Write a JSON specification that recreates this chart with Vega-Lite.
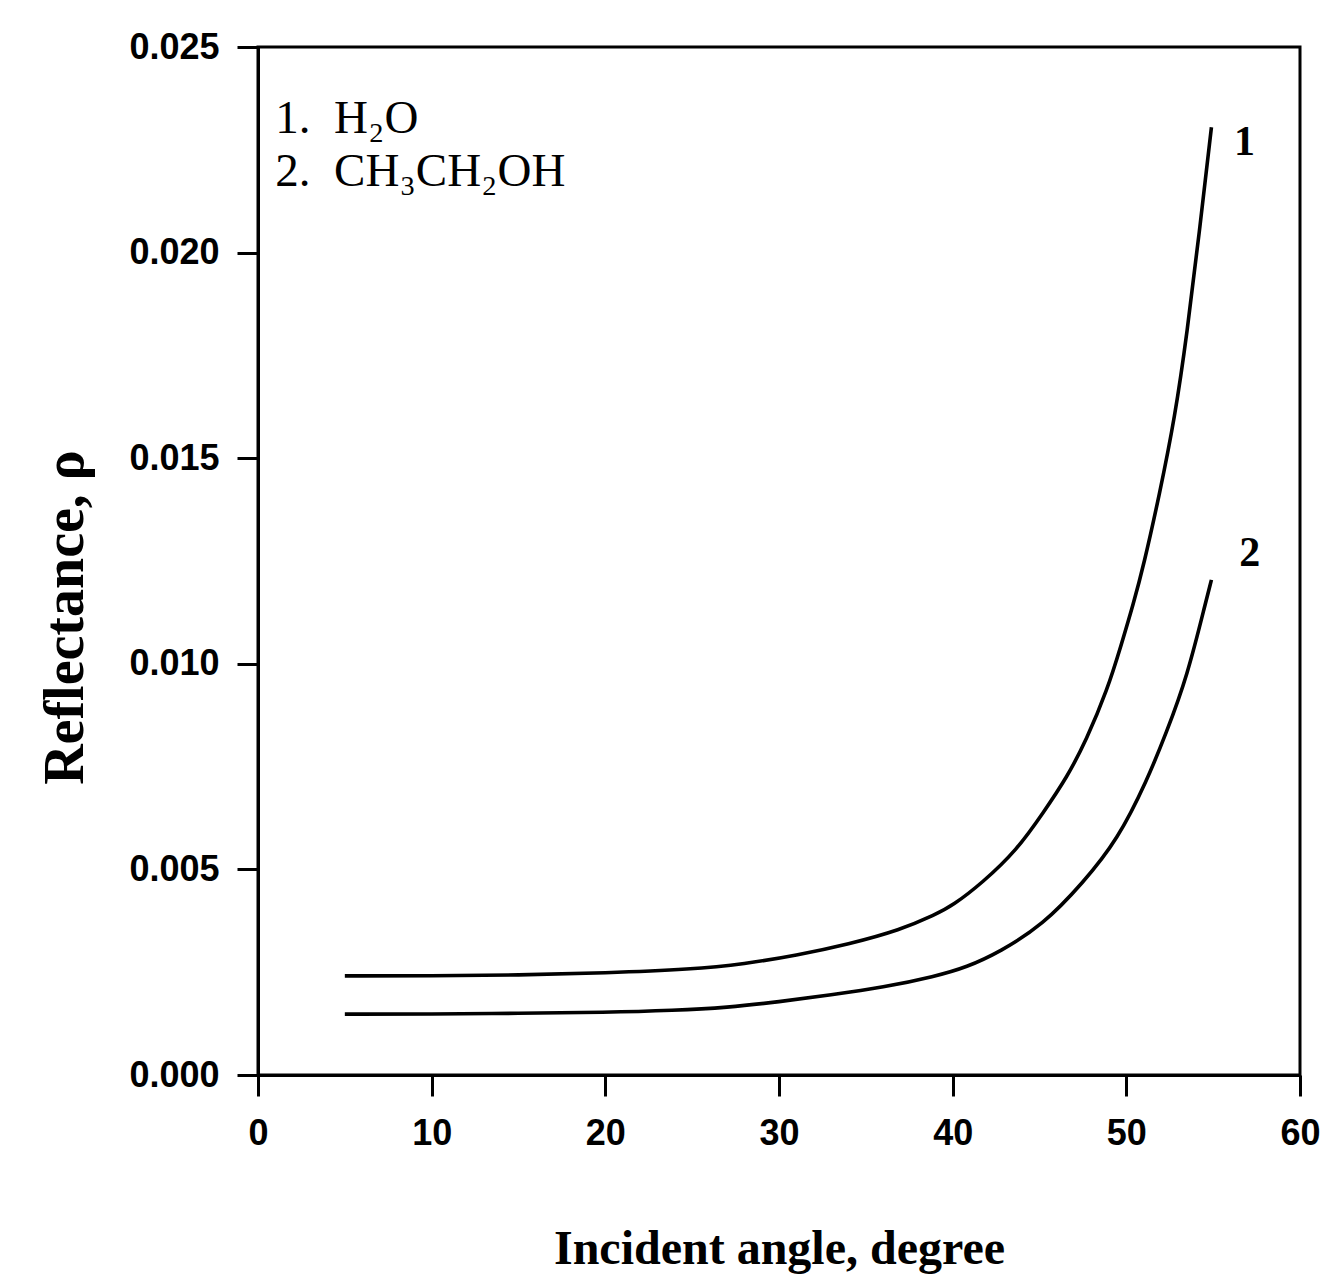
{
  "$schema": "https://vega.github.io/schema/vega-lite/v6.json",
  "width": 1042,
  "height": 1028,
  "autosize": {"type": "none"},
  "padding": {"left": 258, "top": 47, "right": 27, "bottom": 209},
  "background": "white",
  "config": {
    "view": {"stroke": "black", "strokeWidth": 3},
    "axis": {
      "domainColor": "black", "domainWidth": 3,
      "tickColor": "black", "tickWidth": 3, "tickSize": 21,
      "grid": false, "labelFlush": false,
      "labelFont": "Liberation Sans", "labelFontWeight": "bold", "labelFontSize": 36, "labelColor": "black",
      "titleFont": "Liberation Serif", "titleFontWeight": "bold", "titleColor": "black"
    }
  },
  "datasets": {
    "curves": [
      {"angle": 5, "reflectance": 0.00241, "series": "1"},
      {"angle": 10, "reflectance": 0.00241, "series": "1"},
      {"angle": 15, "reflectance": 0.00243, "series": "1"},
      {"angle": 20, "reflectance": 0.00248, "series": "1"},
      {"angle": 25, "reflectance": 0.00257, "series": "1"},
      {"angle": 28, "reflectance": 0.0027, "series": "1"},
      {"angle": 31, "reflectance": 0.00291, "series": "1"},
      {"angle": 34, "reflectance": 0.00318, "series": "1"},
      {"angle": 37, "reflectance": 0.00353, "series": "1"},
      {"angle": 39, "reflectance": 0.0039, "series": "1"},
      {"angle": 40, "reflectance": 0.00412, "series": "1"},
      {"angle": 41.7, "reflectance": 0.00467, "series": "1"},
      {"angle": 43.7, "reflectance": 0.00547, "series": "1"},
      {"angle": 45.2, "reflectance": 0.00637, "series": "1"},
      {"angle": 46.6, "reflectance": 0.00725, "series": "1"},
      {"angle": 47.7, "reflectance": 0.00815, "series": "1"},
      {"angle": 48.9, "reflectance": 0.00936, "series": "1"},
      {"angle": 49.7, "reflectance": 0.01045, "series": "1"},
      {"angle": 50.4, "reflectance": 0.01145, "series": "1"},
      {"angle": 51.0, "reflectance": 0.0124, "series": "1"},
      {"angle": 51.9, "reflectance": 0.0141, "series": "1"},
      {"angle": 52.8, "reflectance": 0.0160, "series": "1"},
      {"angle": 53.5, "reflectance": 0.01805, "series": "1"},
      {"angle": 54.2, "reflectance": 0.02048, "series": "1"},
      {"angle": 54.9, "reflectance": 0.02305, "series": "1"},
      {"angle": 5, "reflectance": 0.00148, "series": "2"},
      {"angle": 10, "reflectance": 0.00148, "series": "2"},
      {"angle": 15, "reflectance": 0.0015, "series": "2"},
      {"angle": 20, "reflectance": 0.00152, "series": "2"},
      {"angle": 24, "reflectance": 0.00157, "series": "2"},
      {"angle": 27, "reflectance": 0.00164, "series": "2"},
      {"angle": 30, "reflectance": 0.00178, "series": "2"},
      {"angle": 33, "reflectance": 0.00195, "series": "2"},
      {"angle": 36, "reflectance": 0.00213, "series": "2"},
      {"angle": 39, "reflectance": 0.0024, "series": "2"},
      {"angle": 40.8, "reflectance": 0.00262, "series": "2"},
      {"angle": 42.7, "reflectance": 0.00299, "series": "2"},
      {"angle": 45.2, "reflectance": 0.00365, "series": "2"},
      {"angle": 47.5, "reflectance": 0.00467, "series": "2"},
      {"angle": 49.5, "reflectance": 0.00572, "series": "2"},
      {"angle": 51.2, "reflectance": 0.00717, "series": "2"},
      {"angle": 52.3, "reflectance": 0.00832, "series": "2"},
      {"angle": 53.5, "reflectance": 0.00968, "series": "2"},
      {"angle": 54.6, "reflectance": 0.01155, "series": "2"},
      {"angle": 54.9, "reflectance": 0.01204, "series": "2"}
    ],
    "curveLabels": [
      {"angle": 56.8, "reflectance": 0.0227, "label": "1"},
      {"angle": 57.1, "reflectance": 0.0127, "label": "2"}
    ],
    "legendLines": [
      {"angle": 1.0, "reflectance": 0.02325, "label": "1.\u00a0\u00a0H₂O"},
      {"angle": 1.0, "reflectance": 0.02195, "label": "2.\u00a0\u00a0CH₃CH₂OH"}
    ]
  },
  "layer": [
    {
      "data": {"name": "curves"},
      "mark": {"type": "line", "color": "black", "strokeWidth": 3.6, "interpolate": "basis"},
      "encoding": {
        "x": {"field": "angle", "type": "quantitative",
              "scale": {"domain": [0, 60], "nice": false, "zero": false},
              "axis": {"values": [0, 10, 20, 30, 40, 50, 60], "format": "d", "labelPadding": 20,
                       "title": "Incident angle, degree", "titleFontSize": 48, "titlePadding": 74}},
        "y": {"field": "reflectance", "type": "quantitative",
              "scale": {"domain": [0, 0.025], "nice": false},
              "axis": {"values": [0, 0.005, 0.01, 0.015, 0.02, 0.025], "format": ".3f", "labelPadding": 18,
                       "title": "Reflectance, ρ", "titleFontSize": 56, "titlePadding": 34, "titleY": 570}},
        "detail": {"field": "series", "type": "nominal"}
      }
    },
    {
      "data": {"name": "curveLabels"},
      "mark": {"type": "text", "font": "Liberation Serif", "fontWeight": "bold", "fontSize": 42, "align": "center", "baseline": "middle", "color": "black"},
      "encoding": {
        "x": {"field": "angle", "type": "quantitative"},
        "y": {"field": "reflectance", "type": "quantitative"},
        "text": {"field": "label"}
      }
    },
    {
      "data": {"name": "legendLines"},
      "mark": {"type": "text", "font": "Liberation Serif", "fontSize": 47, "align": "left", "baseline": "middle", "color": "black"},
      "encoding": {
        "x": {"field": "angle", "type": "quantitative"},
        "y": {"field": "reflectance", "type": "quantitative"},
        "text": {"field": "label"}
      }
    }
  ]
}
